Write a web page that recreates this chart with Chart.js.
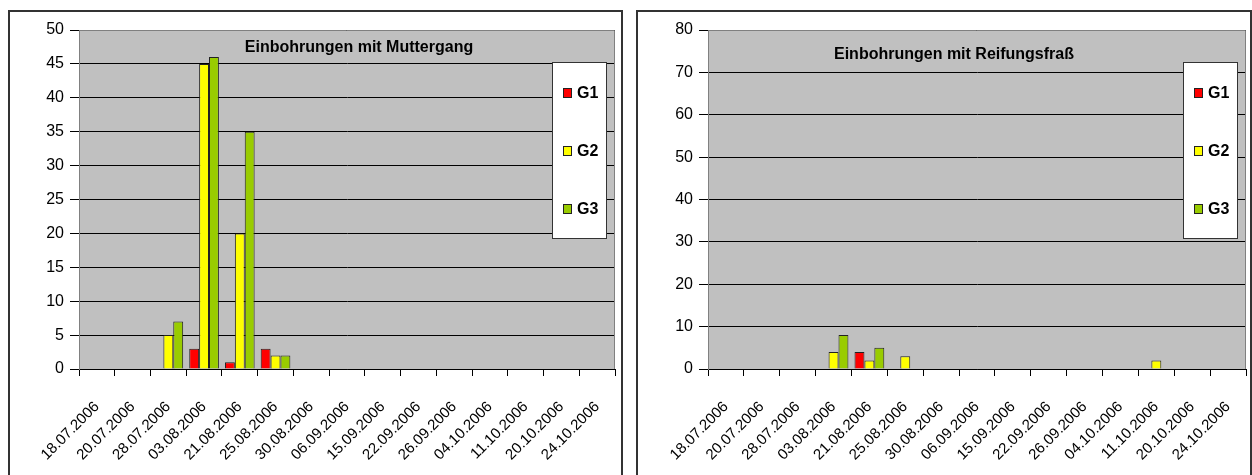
<!DOCTYPE html>
<html>
<head>
<meta charset="utf-8">
<script src="https://cdn.jsdelivr.net/npm/chart.js@4.4.1/dist/chart.umd.min.js"></script>
<style>
  html, body { margin: 0; padding: 0; background: #fff; width: 1252px; height: 475px; overflow: hidden; }
  .frame { position: absolute; top: 10px; height: 480px; border: 2px solid #333; box-sizing: border-box; }
  #frameA { left: 8px; width: 615px; }
  #frameB { left: 636px; width: 616px; }
  canvas { position: absolute; }
  #chartA { left: 10px; top: 12px; }
  #chartB { left: 639px; top: 12px; }
</style>
</head>
<body>
<div class="frame" id="frameA"></div>
<div class="frame" id="frameB"></div>
<canvas id="chartA" width="610" height="463"></canvas>
<canvas id="chartB" width="611" height="463"></canvas>
<script>
// Sampling dates (shared by both charts)
const categories = ['18.07.2006', '20.07.2006', '28.07.2006', '03.08.2006', '21.08.2006',
  '25.08.2006', '30.08.2006', '06.09.2006', '15.09.2006', '22.09.2006', '26.09.2006',
  '04.10.2006', '11.10.2006', '20.10.2006', '24.10.2006'];

// Einbohrungen mit Muttergang
const muttergangG1 = [0, 0, 0, 3, 1, 3, 0, 0, 0, 0, 0, 0, 0, 0, 0];
const muttergangG2 = [0, 0, 5, 45, 20, 2, 0, 0, 0, 0, 0, 0, 0, 0, 0];
const muttergangG3 = [0, 0, 7, 46, 35, 2, 0, 0, 0, 0, 0, 0, 0, 0, 0];

// Einbohrungen mit Reifungsfraß
const reifungG1 = [0, 0, 0, 0, 4, 0, 0, 0, 0, 0, 0, 0, 0, 0, 0];
const reifungG2 = [0, 0, 0, 4, 2, 3, 0, 0, 0, 0, 0, 0, 2, 0, 0];
const reifungG3 = [0, 0, 0, 8, 5, 0, 0, 0, 0, 0, 0, 0, 0, 0, 0];

// Value axis ranges
const muttergangAxis = { max: 50, step: 5 };
const reifungAxis = { max: 80, step: 10 };

const seriesNames = ['G1', 'G2', 'G3'];
const seriesColors = ['#FF0000', '#FFFF00', '#99CC00'];

const FONT = '"Liberation Sans", Arial, sans-serif';

// Grey plot background, plot frame, inner title and boxed legend
const excelLook = {
  id: 'excelLook',
  beforeDraw(chart) {
    const a = chart.chartArea, ctx = chart.ctx;
    ctx.save();
    ctx.fillStyle = '#C0C0C0';
    ctx.fillRect(a.left, a.top, a.right - a.left, a.bottom - a.top);
    ctx.restore();
  },
  afterDraw(chart, args, opts) {
    const a = chart.chartArea, ctx = chart.ctx;
    ctx.save();
    // frame of the plot area
    ctx.strokeStyle = '#808080';
    ctx.lineWidth = 1;
    ctx.beginPath();
    ctx.moveTo(a.left, a.top + 0.5);
    ctx.lineTo(a.right - 0.5, a.top + 0.5);
    ctx.lineTo(a.right - 0.5, a.bottom);
    ctx.stroke();
    // title inside the plot
    ctx.fillStyle = '#000';
    ctx.font = 'bold 16px ' + FONT;
    ctx.textAlign = 'center';
    ctx.textBaseline = 'middle';
    ctx.fillText(opts.title, a.left + opts.titleDx, a.top + opts.titleDy);
    // legend box
    const w = 55, h = 177;
    const x = a.right - 8 - w, y = a.top + 32;
    ctx.fillStyle = '#fff';
    ctx.fillRect(x, y, w, h);
    ctx.strokeStyle = '#333';
    ctx.strokeRect(x + 0.5, y + 0.5, w - 1, h - 1);
    ctx.font = 'bold 16px ' + FONT;
    ctx.textAlign = 'left';
    chart.data.datasets.forEach((ds, i) => {
      const cy = y + 31 + i * 58;
      ctx.fillStyle = ds.backgroundColor;
      ctx.fillRect(x + 11, cy - 5, 9, 10);
      ctx.strokeStyle = '#222';
      ctx.strokeRect(x + 11.5, cy - 4.5, 8, 9);
      ctx.fillStyle = '#000';
      ctx.fillText(ds.label, x + 25, cy + 1);
    });
    ctx.restore();
  }
};

function makeChart(id, values, axis, title, titleDx, titleDy, rightPad) {
  return new Chart(document.getElementById(id), {
    type: 'bar',
    data: {
      labels: categories,
      datasets: values.map((v, i) => ({
        label: seriesNames[i],
        data: v,
        backgroundColor: seriesColors[i],
        borderColor: '#222',
        borderWidth: 1,
        borderSkipped: 'bottom',
        categoryPercentage: 0.83,
        barPercentage: 1.0
      }))
    },
    options: {
      responsive: false,
      animation: false,
      devicePixelRatio: 1,
      layout: { padding: { top: 18, right: rightPad, left: 0, bottom: 0 } },
      plugins: {
        legend: { display: false },
        tooltip: { enabled: false },
        excelLook: { title, titleDx, titleDy }
      },
      scales: {
        x: {
          offset: true,
          grid: { offset: true, drawOnChartArea: false, drawTicks: true, tickLength: 7, color: '#000' },
          border: { color: '#000', width: 1 },
          ticks: {
            color: '#000',
            font: { family: FONT, size: 15 },
            minRotation: 45, maxRotation: 45,
            autoSkip: false,
            padding: 22
          },
          afterFit(scale) {
            scale.height = 106;
            scale.paddingLeft = 0;
            scale.paddingRight = 0;
          }
        },
        y: {
          min: 0, max: axis.max,
          grid: { color: '#000', lineWidth: 1, drawTicks: true, tickLength: 9 },
          border: { color: '#808080', width: 1 },
          ticks: {
            stepSize: axis.step,
            color: '#000',
            font: { family: FONT, size: 16 },
            padding: 6
          },
          afterFit(scale) { scale.width = 69; }
        }
      }
    },
    plugins: [excelLook]
  });
}

makeChart('chartA', [muttergangG1, muttergangG2, muttergangG3], muttergangAxis,
  'Einbohrungen mit Muttergang', 280, 18, 5);
makeChart('chartB', [reifungG1, reifungG2, reifungG3], reifungAxis,
  'Einbohrungen mit Reifungsfraß', 246, 25, 4);
</script>
</body>
</html>
